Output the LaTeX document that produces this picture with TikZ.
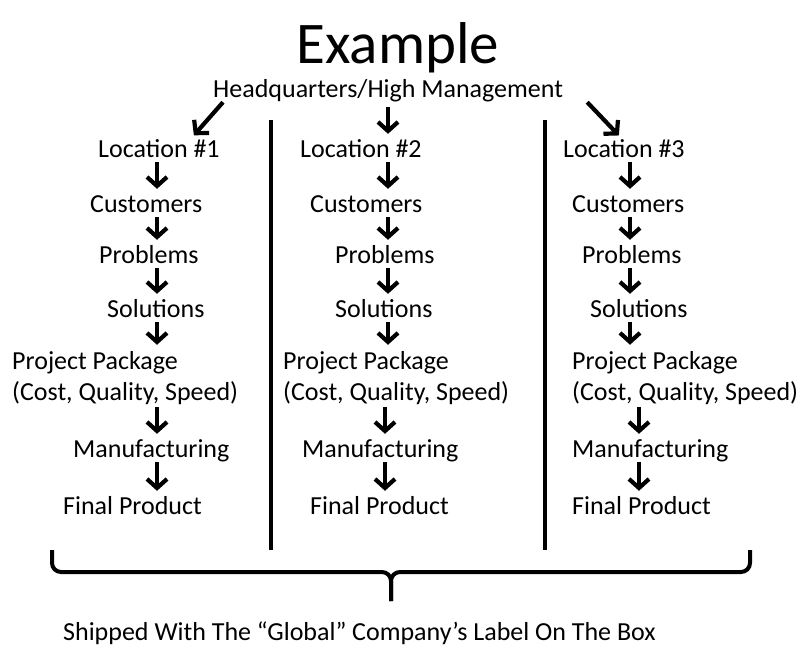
\documentclass[tikz,border=0pt]{standalone}
\usepackage{fontspec}
\setmainfont{Carlito}
\usetikzlibrary{arrows.meta}

\tikzset{
  lbl/.style={anchor=base west, inner sep=0pt, font=\fontsize{26}{31}\selectfont,
    text height=17pt, text depth=5pt},
  lbltwo/.style={anchor=base west, inner sep=0pt, font=\fontsize{26}{31}\selectfont,
    align=left},
  arr/.style={line width=4.2pt, -{Straight Barb[length=9pt,width=20pt]}, shorten >=6pt},
  divider/.style={line width=4pt},
  brace/.style={line width=4pt, rounded corners=9pt},
}

\begin{document}
\begin{tikzpicture}[x=1pt,y=-1pt]
      \useasboundingbox (0,0) rectangle (801,646);

      \node[anchor=base, inner sep=0pt, font=\fontsize{59}{70}\selectfont] (TitleN) at (398,63) {Example};
      \node[lbl] (HQN) at (213,97) {Headquarters/High Management};

      % column axes for the arrows
      \coordinate (Ax1)  at (157,0);
      \coordinate (Ax2)  at (388,0);
      \coordinate (Ax2b) at (385,0);
      \coordinate (Ax3)  at (630,0);
      \coordinate (Ax3b) at (639,0);

      \node[lbl]    (Loc1N)   at (98,157)  {Location \#1};
      \node[lbl]    (Cust1N)  at (90,212)  {Customers};
      \node[lbl]    (Prob1N)  at (99,263)  {Problems};
      \node[lbl]    (Sol1N)   at (107,317) {Solutions};
      \node[lbltwo] (Pack1N)  at (12,400)  {Project Package\\(Cost, Quality, Speed)};
      \node[lbl]    (Manu1N)  at (73,457)  {Manufacturing};
      \node[lbl]    (Final1N) at (63,514)  {Final Product};

      \node[lbl]    (Loc2N)   at (300,157) {Location \#2};
      \node[lbl]    (Cust2N)  at (310,212) {Customers};
      \node[lbl]    (Prob2N)  at (335,263) {Problems};
      \node[lbl]    (Sol2N)   at (335,317) {Solutions};
      \node[lbltwo] (Pack2N)  at (283,400) {Project Package\\(Cost, Quality, Speed)};
      \node[lbl]    (Manu2N)  at (302,457) {Manufacturing};
      \node[lbl]    (Final2N) at (310,514) {Final Product};

      \node[lbl]    (Loc3N)   at (563,157) {Location \#3};
      \node[lbl]    (Cust3N)  at (572,212) {Customers};
      \node[lbl]    (Prob3N)  at (582,263) {Problems};
      \node[lbl]    (Sol3N)   at (590,317) {Solutions};
      \node[lbltwo] (Pack3N)  at (572,400) {Project Package\\(Cost, Quality, Speed)};
      \node[lbl]    (Manu3N)  at (572,457) {Manufacturing};
      \node[lbl]    (Final3N) at (572,514) {Final Product};

      \node[lbl] (ShipN) at (63,640) {Shipped With The “Global” Company’s Label On The Box};

      % from headquarters
      \draw[arr] ([xshift=10pt]HQN.south west) -- ([xshift=-30pt]Loc1N.north east);
      \draw[arr, shorten <=5pt] (HQN.south -| Ax2) -- (Loc2N.north -| Ax2);
      \draw[arr] ([xshift=24pt]HQN.south east) -- ([xshift=60pt]Loc3N.north west);

      \draw[arr] (Loc1N.south -| Ax1)  -- (Cust1N.north -| Ax1);
      \draw[arr] (Cust1N.south -| Ax1) -- (Prob1N.north -| Ax1);
      \draw[arr] (Prob1N.south -| Ax1) -- (Sol1N.north -| Ax1);
      \draw[arr] (Sol1N.south -| Ax1)  -- (Pack1N.north -| Ax1);
      \draw[arr, shorten <=3pt] (Pack1N.south -| Ax1) -- (Manu1N.north -| Ax1);
      \draw[arr] (Manu1N.south -| Ax1) -- (Final1N.north -| Ax1);

      \draw[arr] (Loc2N.south -| Ax2)  -- (Cust2N.north -| Ax2);
      \draw[arr] (Cust2N.south -| Ax2) -- (Prob2N.north -| Ax2);
      \draw[arr] (Prob2N.south -| Ax2) -- (Sol2N.north -| Ax2);
      \draw[arr] (Sol2N.south -| Ax2)  -- (Pack2N.north -| Ax2);
      \draw[arr, shorten <=3pt] (Pack2N.south -| Ax2b) -- (Manu2N.north -| Ax2b);
      \draw[arr] (Manu2N.south -| Ax2b) -- (Final2N.north -| Ax2b);

      \draw[arr] (Loc3N.south -| Ax3)  -- (Cust3N.north -| Ax3);
      \draw[arr] (Cust3N.south -| Ax3) -- (Prob3N.north -| Ax3);
      \draw[arr] (Prob3N.south -| Ax3) -- (Sol3N.north -| Ax3);
      \draw[arr] (Sol3N.south -| Ax3)  -- (Pack3N.north -| Ax3);
      \draw[arr, shorten <=3pt] (Pack3N.south -| Ax3b) -- (Manu3N.north -| Ax3b);
      \draw[arr] (Manu3N.south -| Ax3b) -- (Final3N.north -| Ax3b);

      % dividers and brace
      \draw[divider] (271,120) -- (271,550);
      \draw[divider] (545,120) -- (545,550);

      \draw[brace] (52,550) -- (52,572) -- (391,572) -- (391,601);
      \draw[brace] (750,550) -- (750,572) -- (391,572) -- (391,601);
    \end{tikzpicture}
\end{document}
